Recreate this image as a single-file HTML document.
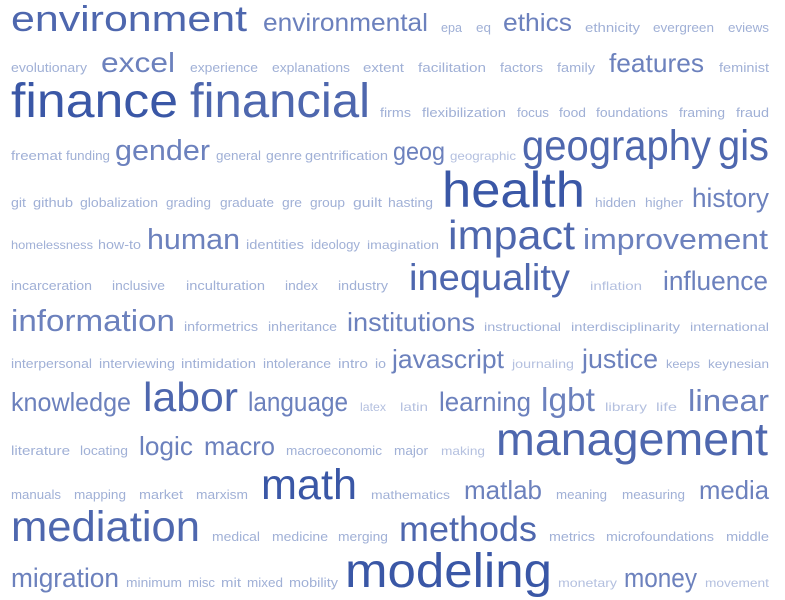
<!DOCTYPE html>
<html><head><meta charset="utf-8"><style>
html,body{margin:0;padding:0;background:#fff;}
svg{display:block;}
text{font-family:"Liberation Sans",sans-serif;}
</style></head><body>
<svg id="cloud" width="785" height="600" viewBox="0 0 785 600"></svg>
<script>
// word, x-start, x-end, baseline, font-size, shade
const W=[
["environment",11,247,31,36,2],["environmental",263,428,31,25,3],["epa",441,462,32,13,4],["eq",476,491,32,13,4],["ethics",503,572,31,25,3],["ethnicity",585,640,32,13,4],["evergreen",653,714,32,13,4],["eviews",728,769,32,13,4],
["evolutionary",11,87,72,13,4],["excel",101,175,72,28,3],["experience",190,258,72,13,4],["explanations",272,350,72,13,4],["extent",363,404,72,13,4],["facilitation",418,486,72,13,4],["factors",500,543,72,13,4],["family",557,595,72,13,4],["features",609,704,72,26,3],["feminist",719,769,72,13,4],
["finance",11,178,117,48,1],["financial",190,370,117,48,2],["firms",380,411,117,13,4],["flexibilization",422,506,117,13,4],["focus",517,549,117,13,4],["food",559,586,117,13,4],["foundations",596,668,117,13,4],["framing",679,725,117,13,4],["fraud",736,769,117,13,4],
["freemat",11,62,160,13,4],["funding",66,110,160,13,4],["gender",115,210,160,29,3],["general",216,261,160,13,4],["genre",266,302,160,13,4],["gentrification",305,388,160,13,4],["geog",393,445,160,25,3],["geographic",450,516,160,12,5],["geography",522,711,160,43,2],["gis",718,769,160,43,2],
["git",11,26,207,13,4],["github",33,73,207,13,4],["globalization",80,158,207,13,4],["grading",166,211,207,13,4],["graduate",220,274,207,13,4],["gre",282,302,207,13,4],["group",310,345,207,13,4],["guilt",353,382,207,13,4],["hasting",388,433,207,13,4],["health",442,585,207,50,1],["hidden",595,636,207,13,4],["higher",645,683,207,13,4],["history",692,769,207,27,3],
["homelessness",11,93,249,12,4],["how-to",98,141,249,13,4],["human",147,240,249,29,3],["identities",246,304,249,13,4],["ideology",311,360,249,13,4],["imagination",367,439,249,12,4],["impact",448,575,249,41,2],["improvement",583,768,249,29,3],
["incarceration",11,92,290,13,4],["inclusive",112,165,290,13,4],["inculturation",186,265,290,13,4],["index",285,318,290,13,4],["industry",338,388,290,13,4],["inequality",409,570,290,37,2],["inflation",590,642,290,12,5],["influence",663,768,290,27,3],
["information",11,175,331,31,3],["informetrics",184,258,331,13,4],["inheritance",268,337,331,13,4],["institutions",347,475,331,26,3],["instructional",484,561,331,12,4],["interdisciplinarity",571,680,331,12,4],["international",690,769,331,12,4],
["interpersonal",11,92,368,13,4],["interviewing",99,175,368,13,4],["intimidation",181,256,368,13,4],["intolerance",263,331,368,13,4],["intro",338,368,368,13,4],["io",375,386,368,13,4],["javascript",392,504,368,26,3],["journaling",512,574,368,12,5],["justice",582,658,368,27,3],["keeps",666,700,368,12,4],["keynesian",708,769,368,12,4],
["knowledge",11,131,411,26,3],["labor",143,238,411,41,2],["language",248,348,411,27,3],["latex",360,386,411,12,5],["latin",400,428,411,12,5],["learning",439,531,411,27,3],["lgbt",541,595,411,33,3],["library",605,647,411,12,5],["life",656,677,411,12,5],["linear",688,769,411,31,3],
["literature",11,70,455,13,4],["locating",80,128,455,13,4],["logic",139,193,455,26,3],["macro",204,275,455,26,3],["macroeconomic",286,382,455,13,4],["major",394,428,455,13,4],["making",441,485,455,12,5],["management",496,768,455,46,2],
["manuals",11,61,499,13,4],["mapping",74,126,499,13,4],["market",139,183,499,13,4],["marxism",196,248,499,13,4],["math",261,357,499,43,1],["mathematics",371,450,499,12,4],["matlab",464,542,499,26,3],["meaning",556,607,499,13,4],["measuring",622,685,499,13,4],["media",699,769,499,26,3],
["mediation",11,200,541,43,2],["medical",212,260,541,13,4],["medicine",272,328,541,13,4],["merging",338,388,541,13,4],["methods",399,537,541,35,2],["metrics",549,595,541,13,4],["microfoundations",606,714,541,13,4],["middle",726,769,541,13,4],
["migration",11,119,587,27,3],["minimum",126,182,587,13,4],["misc",188,215,587,13,4],["mit",221,241,587,13,4],["mixed",247,283,587,13,4],["mobility",289,338,587,13,4],["modeling",345,552,587,48,1],["monetary",558,617,587,12,5],["money",624,697,587,27,3],["movement",705,769,587,12,5]
];
const SHADES=["","#3a57a6","#4e67ae","#6c81bd","#a0b0d6","#b4c0df"];
const NS="http://www.w3.org/2000/svg";
const svg=document.getElementById('cloud');
for(const w of W){
  const t=document.createElementNS(NS,'text');
  t.setAttribute('x',w[1]);
  t.setAttribute('y',w[3]);
  t.setAttribute('font-size',w[4]);
  t.setAttribute('fill',SHADES[w[5]]);
  t.setAttribute('textLength',w[2]-w[1]);
  t.setAttribute('lengthAdjust','spacingAndGlyphs');
  
  
  t.textContent=w[0];
  svg.appendChild(t);
}
</script>
</body></html>
